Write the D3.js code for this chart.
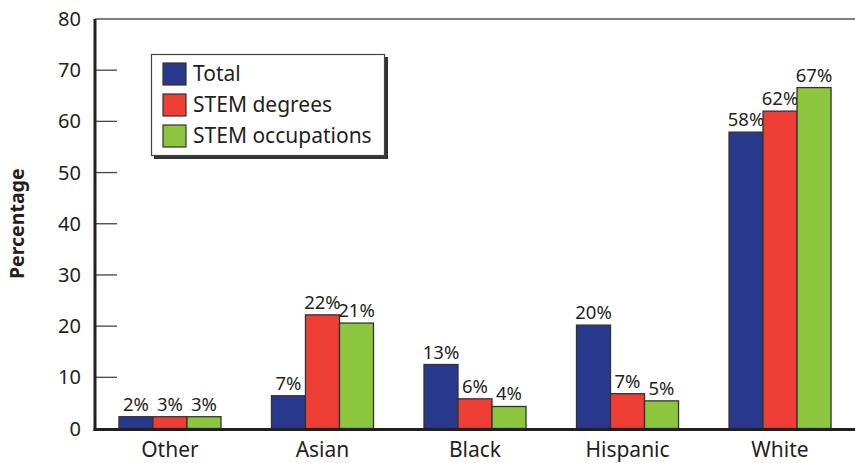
<!DOCTYPE html>
<html><head><meta charset="utf-8">
<script src="https://cdn.jsdelivr.net/npm/d3@7"></script>
<style>
html,body{margin:0;padding:0;background:#fff;}
text{font-family:"Noto Sans","Open Sans",sans-serif;fill:#231f20;}
</style></head>
<body><svg id="chart" width="855" height="463"></svg>
<script>
const categories = ["Other","Asian","Black","Hispanic","White"];
const seriesNames = ["Total","STEM degrees","STEM occupations"];
const totalValues = [2.3, 6.4, 12.5, 20.2, 57.9];
const degreeValues = [2.3, 22.2, 5.8, 6.8, 62.0];
const occupationValues = [2.3, 20.6, 4.3, 5.4, 66.6];
const totalLabels = ["2%","7%","13%","20%","58%"];
const degreeLabels = ["3%","22%","6%","7%","62%"];
const occupationLabels = ["3%","21%","4%","5%","67%"];
const yTicks = [0,10,20,30,40,50,60,70,80];
const colors = ["#27388d","#ef3e36","#8cc63f"];

const values = [totalValues, degreeValues, occupationValues];
const labels = [totalLabels, degreeLabels, occupationLabels];

const svg = d3.select("#chart");
const x0 = d3.scaleBand().domain(categories).range([95,855]).paddingInner(0.331).paddingOuter(0.157);
const x1 = d3.scaleBand().domain(seriesNames).range([0,x0.bandwidth()]);
const y = d3.scaleLinear().domain([0,80]).range([428.5,19]);

// top frame line
svg.append("line").attr("x1",95).attr("x2",855).attr("y1",y(80)).attr("y2",y(80))
  .attr("stroke","#555").attr("stroke-width",1.5);

// y ticks (inward)
const yAxis = svg.append("g");
yAxis.selectAll("line.t").data(yTicks.filter(d=>d>0 && d<80)).enter().append("line")
  .attr("x1",96).attr("x2",117).attr("y1",d=>y(d)).attr("y2",d=>y(d))
  .attr("stroke","#444").attr("stroke-width",1.3);
yAxis.selectAll("text").data(yTicks).enter().append("text")
  .attr("x",81).attr("y",d=>y(d)).attr("dy","0.35em").attr("text-anchor","end")
  .attr("font-size",20).text(d=>d);

svg.append("text").attr("transform","translate(24,"+((y(0)+y(80))/2+0)+") rotate(-90)")
  .attr("text-anchor","middle").attr("font-size",19.5).attr("font-weight","bold").text("Percentage");

// bars
const groups = svg.selectAll("g.grp").data(categories).enter().append("g")
  .attr("transform",d=>"translate("+x0(d)+",0)");
seriesNames.forEach((s,si)=>{
  groups.append("rect")
    .attr("x",x1(s)).attr("width",x1.bandwidth())
    .attr("y",(d,i)=>y(values[si][i])).attr("height",(d,i)=>y(0)-y(values[si][i]))
    .attr("fill",colors[si]).attr("stroke","#333").attr("stroke-width",1.3);
  groups.append("text")
    .attr("x",x1(s)+x1.bandwidth()/2).attr("y",(d,i)=>y(values[si][i])-6)
    .attr("text-anchor","middle").attr("font-size",18.5)
    .text((d,i)=>labels[si][i]);
});

// x axis
svg.append("line").attr("x1",93.5).attr("x2",855).attr("y1",y(0)+1).attr("y2",y(0)+1)
  .attr("stroke","#231f20").attr("stroke-width",3);
svg.append("line").attr("x1",95).attr("x2",95).attr("y1",y(80)).attr("y2",y(0)+2.5)
  .attr("stroke","#231f20").attr("stroke-width",3);
svg.selectAll("text.cat").data(categories).enter().append("text")
  .attr("x",d=>x0(d)+x0.bandwidth()/2).attr("y",457).attr("text-anchor","middle")
  .attr("font-size",21).text(d=>d);

// legend
const lg = svg.append("g");
lg.append("rect").attr("x",154).attr("y",57).attr("width",234).attr("height",102).attr("fill","#333");
lg.append("rect").attr("x",151.5).attr("y",54.5).attr("width",233).attr("height",101)
  .attr("fill","#fff").attr("stroke","#444").attr("stroke-width",1.2);
seriesNames.forEach((s,i)=>{
  lg.append("rect").attr("x",163).attr("y",63+i*31).attr("width",23).attr("height",22)
    .attr("fill",colors[i]).attr("stroke","#333").attr("stroke-width",1.2);
  lg.append("text").attr("x",193).attr("y",74+i*31).attr("dy","0.35em").attr("font-size",21).text(s);
});
</script></body></html>
